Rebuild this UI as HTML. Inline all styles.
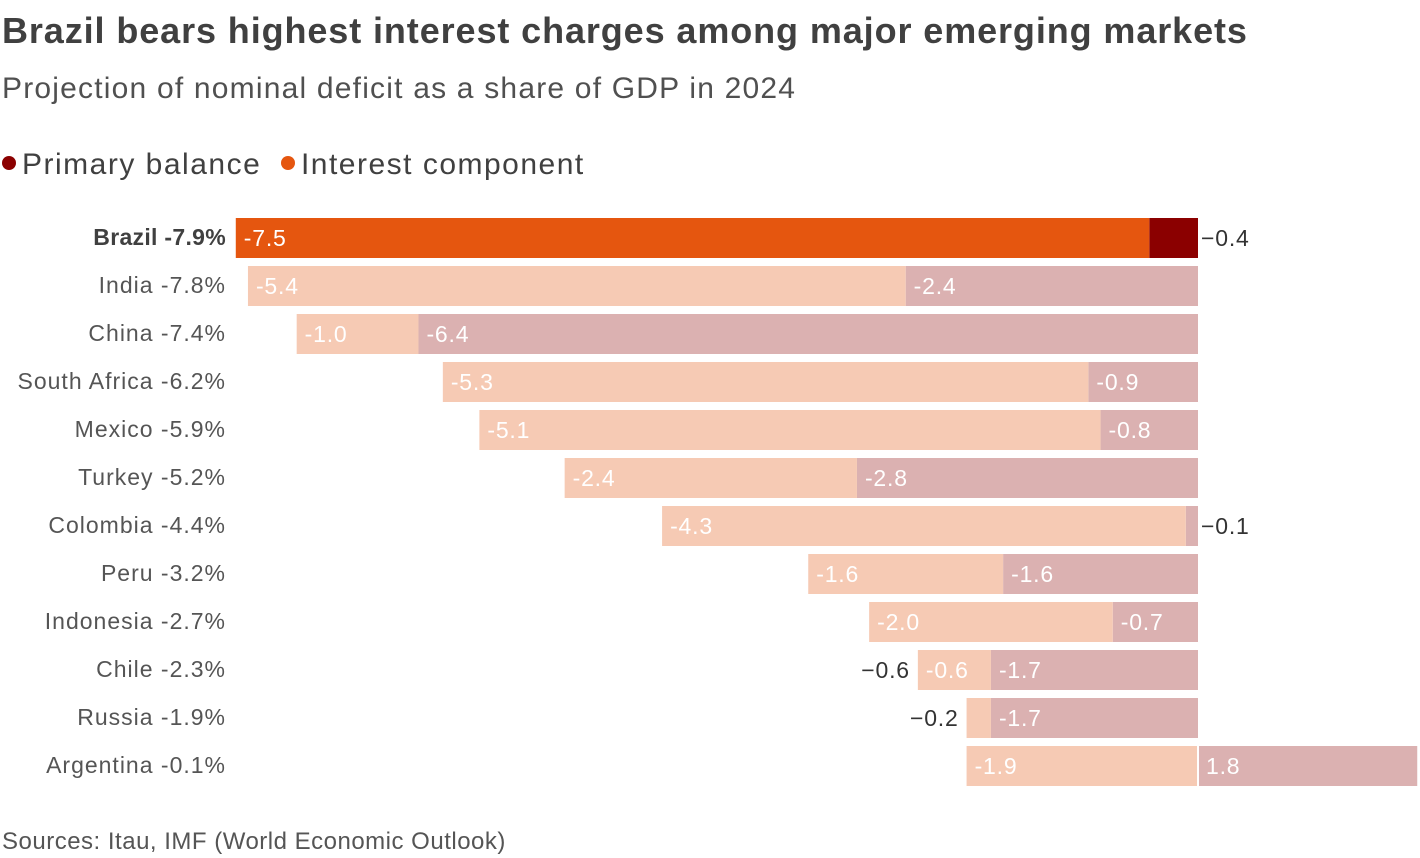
<!DOCTYPE html>
<html><head><meta charset="utf-8">
<style>
body{margin:0;width:1420px;height:858px;background:#fff;font-family:"Liberation Sans",sans-serif;color:#404040;overflow:hidden;position:relative}
.t{position:absolute;left:2px;white-space:nowrap}
.dot{display:inline-block;width:14px;height:14px;border-radius:50%;vertical-align:4px;margin-right:6px}
</style></head><body>
<div class="t" style="top:10px;font-size:36px;font-weight:bold;color:#404040;letter-spacing:0.9px">Brazil bears highest interest charges among major emerging markets</div>
<div class="t" style="top:72px;font-size:30px;color:#505050;letter-spacing:1.2px">Projection of nominal deficit as a share of GDP in 2024</div>
<div class="t" style="top:148px;font-size:30px;color:#404040;letter-spacing:1.5px">
<span><span class="dot" style="background:#8b0000"></span>Primary balance</span>&nbsp;
<span><span class="dot" style="background:#e5560f"></span>Interest component</span></div>
<svg id="c" width="1420" height="858" style="position:absolute;left:0;top:0"></svg>
<div class="t" style="top:828px;font-size:24px;color:#555;letter-spacing:0.5px">Sources: Itau, IMF (World Economic Outlook)</div>
<script>
const countries=["Brazil","India","China","South Africa","Mexico","Turkey","Colombia","Peru","Indonesia","Chile","Russia","Argentina"];
const totals=["-7.9%","-7.8%","-7.4%","-6.2%","-5.9%","-5.2%","-4.4%","-3.2%","-2.7%","-2.3%","-1.9%","-0.1%"];
const interest=[-7.5,-5.4,-1.0,-5.3,-5.1,-2.4,-4.3,-1.6,-2.0,-0.6,-0.2,-1.9];
const primary=[-0.4,-2.4,-6.4,-0.9,-0.8,-2.8,-0.1,-1.6,-0.7,-1.7,-1.7,1.8];
const svg=document.getElementById('c');const NS='http://www.w3.org/2000/svg';
const zero=1198,scale=121.8;const x=v=>zero+v*scale;
const y0=218,step=48,bh=40;
function el(t,a){const e=document.createElementNS(NS,t);for(const k in a)e.setAttribute(k,a[k]);svg.appendChild(e);return e;}
const fmt=v=>v.toFixed(1);
countries.forEach((c,i)=>{
 const y=y0+i*step,br=i===0;
 const ci=br?'#e5560f':'#f6cab4',cp=br?'#8b0000':'#dbb1b1';
 const lab=el('text',{x:226,y:y+27,'text-anchor':'end','font-size':23,'letter-spacing':br?0.3:1,fill:br?'#404040':'#555','font-weight':br?'bold':'normal'});
 lab.textContent=c+' '+totals[i];
 
 
 const p=primary[i],pa=Math.min(x(0),x(p)),pw=Math.abs(x(p)-x(0));
 const r1=el('rect',{x:pa,y:y,width:pw,height:bh,fill:cp});
 
 
 const base=p<0?p:0,ie=base+interest[i];
 const ia=x(ie),iw=x(base)-x(ie);
 const r2=el('rect',{x:ia,y:y,width:iw,height:bh,fill:ci});
 
 
 if(p>0){el('line',{x1:zero,x2:zero,y1:y,y2:y+bh,stroke:'#fff','stroke-width':2});}
 const ty=y+28;
 if(iw>=60){const t=el('text',{x:ia+8,y:ty,'font-size':23,'letter-spacing':0.8,fill:'#fff'});t.textContent=fmt(interest[i]);}
 if(iw<80){const t=el('text',{x:ia-8,y:ty,'font-size':23,'letter-spacing':0.8,fill:'#333','text-anchor':'end'});t.textContent='\u2212'+fmt(Math.abs(interest[i]));}
 if(pw>=60){const t=el('text',{x:pa+8,y:ty,'font-size':23,'letter-spacing':0.8,fill:'#fff'});t.textContent=fmt(p);}
 else{const t=el('text',{x:zero+3,y:ty,'font-size':23,'letter-spacing':0.8,fill:'#333'});t.textContent='\u2212'+fmt(Math.abs(p));}
});
</script>
</body></html>
